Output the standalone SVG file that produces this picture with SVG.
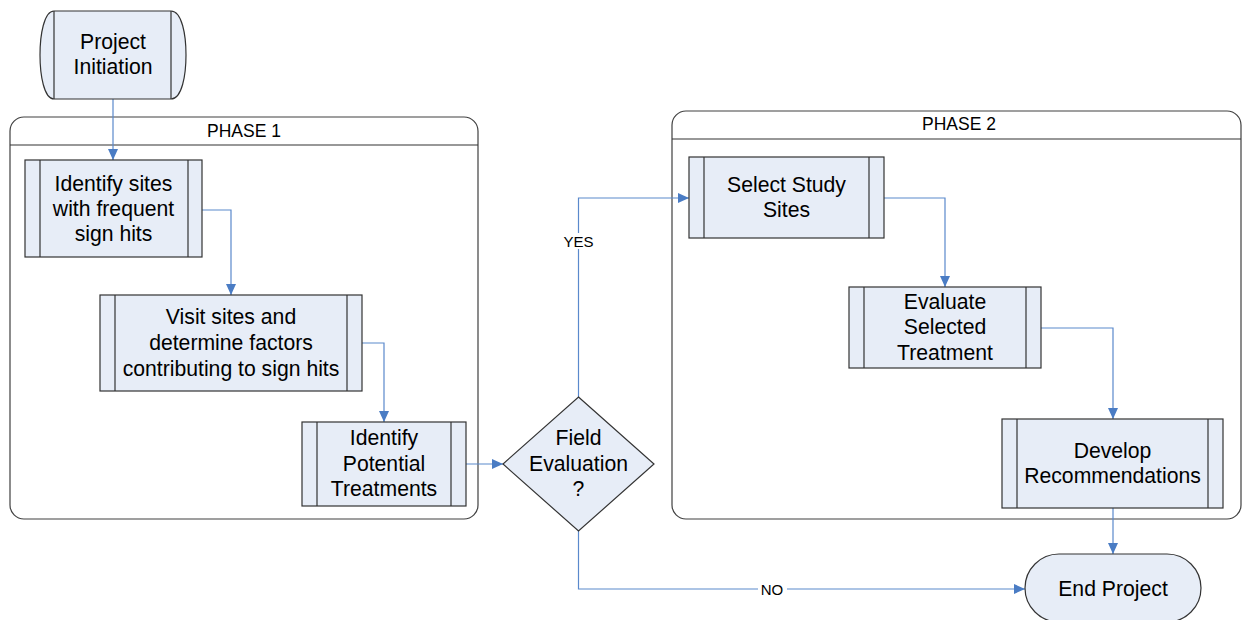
<svg xmlns="http://www.w3.org/2000/svg" width="1243" height="620" viewBox="0 0 1243 620">
<style>
.box{fill:#E7EDF7;stroke:#333;stroke-width:1.2}
.inner{stroke:#333;stroke-width:1.2;fill:none}
.cont{fill:#fff;stroke:#404040;stroke-width:1.2}
.t{font-family:"Liberation Sans",Arial,sans-serif;font-size:21.2px;fill:#000;text-anchor:middle;dominant-baseline:central}
.h{font-family:"Liberation Sans",Arial,sans-serif;font-size:17.5px;fill:#000;text-anchor:middle;dominant-baseline:central}
.lbl{font-family:"Liberation Sans",Arial,sans-serif;font-size:15px;fill:#000;text-anchor:middle;dominant-baseline:central}
.c{fill:none;stroke:#5A89CC;stroke-width:1.2}
</style>
<defs>
<marker id="arr" markerUnits="userSpaceOnUse" markerWidth="12" markerHeight="10" refX="11" refY="5" orient="auto">
<path d="M0,0 L11,5 L0,10 Z" fill="#4A7CC4"/>
</marker>
</defs>
<rect width="1243" height="620" fill="#fff"/>
<g id="phase1">
<rect class="cont" x="10" y="117" width="468" height="402" rx="14"/>
<line class="inner" x1="10" y1="145" x2="478" y2="145"/>
<text class="h" x="244" y="131">PHASE 1</text>
</g>
<g id="phase2">
<rect class="cont" x="672" y="111" width="569" height="408" rx="14"/>
<line class="inner" x1="672" y1="139" x2="1241" y2="139"/>
<text class="h" x="959" y="124">PHASE 2</text>
</g>
<g id="connectors">
<path class="c" d="M113,99 V160" marker-end="url(#arr)"/>
<path class="c" d="M202,210 H231 V295" marker-end="url(#arr)"/>
<path class="c" d="M362,343 H384 V422" marker-end="url(#arr)"/>
<path class="c" d="M466,464 H503" marker-end="url(#arr)"/>
<path class="c" d="M578.5,397 V198 H689" marker-end="url(#arr)"/>
<path class="c" d="M578.5,531 V589 H1025" marker-end="url(#arr)"/>
<path class="c" d="M884,198 H945 V287" marker-end="url(#arr)"/>
<path class="c" d="M1041,328 H1113 V419" marker-end="url(#arr)"/>
<path class="c" d="M1113,508 V554" marker-end="url(#arr)"/>
<rect x="561" y="233" width="35" height="16" fill="#fff"/>
<text class="lbl" x="578.5" y="241">YES</text>
<rect x="758" y="581" width="29" height="16" fill="#fff"/>
<text class="lbl" x="772" y="589">NO</text>
</g>
<g id="project-initiation">
<path class="box" d="M54,11 H171 C182,11 186,35 186,55 C186,75 182,99 171,99 H54 C44,99 40,75 40,55 C40,35 44,11 54,11 Z"/>
<line class="inner" x1="54" y1="11" x2="54" y2="99"/>
<line class="inner" x1="171" y1="11" x2="171" y2="99"/>
<text class="t" x="113" y="41">Project</text>
<text class="t" x="113" y="66">Initiation</text>
</g>
<g id="identify-sites">
<rect class="box" x="25" y="160" width="177" height="97"/>
<line class="inner" x1="40" y1="160" x2="40" y2="257"/>
<line class="inner" x1="188" y1="160" x2="188" y2="257"/>
<text class="t" x="113.5" y="183">Identify sites</text>
<text class="t" x="113.5" y="208">with frequent</text>
<text class="t" x="113.5" y="233">sign hits</text>
</g>
<g id="visit-sites">
<rect class="box" x="100" y="295" width="262" height="96"/>
<line class="inner" x1="115" y1="295" x2="115" y2="391"/>
<line class="inner" x1="347" y1="295" x2="347" y2="391"/>
<text class="t" x="231" y="316">Visit sites and</text>
<text class="t" x="231" y="342">determine factors</text>
<text class="t" x="231" y="368">contributing to sign hits</text>
</g>
<g id="identify-treatments">
<rect class="box" x="302" y="422" width="164" height="84"/>
<line class="inner" x1="317" y1="422" x2="317" y2="506"/>
<line class="inner" x1="451" y1="422" x2="451" y2="506"/>
<text class="t" x="384" y="437">Identify</text>
<text class="t" x="384" y="463">Potential</text>
<text class="t" x="384" y="488">Treatments</text>
</g>
<g id="field-evaluation">
<path class="box" d="M578.5,397 L654,464 L578.5,531 L503,464 Z"/>
<text class="t" x="578.5" y="437">Field</text>
<text class="t" x="578.5" y="463">Evaluation</text>
<text class="t" x="578.5" y="488">?</text>
</g>
<g id="select-study-sites">
<rect class="box" x="689" y="157" width="195" height="81"/>
<line class="inner" x1="704" y1="157" x2="704" y2="238"/>
<line class="inner" x1="869" y1="157" x2="869" y2="238"/>
<text class="t" x="786.5" y="184">Select Study</text>
<text class="t" x="786.5" y="209">Sites</text>
</g>
<g id="evaluate-treatment">
<rect class="box" x="849" y="287" width="192" height="81"/>
<line class="inner" x1="864" y1="287" x2="864" y2="368"/>
<line class="inner" x1="1026" y1="287" x2="1026" y2="368"/>
<text class="t" x="945" y="301">Evaluate</text>
<text class="t" x="945" y="326">Selected</text>
<text class="t" x="945" y="352">Treatment</text>
</g>
<g id="develop-recommendations">
<rect class="box" x="1002" y="419" width="221" height="89"/>
<line class="inner" x1="1017" y1="419" x2="1017" y2="508"/>
<line class="inner" x1="1208" y1="419" x2="1208" y2="508"/>
<text class="t" x="1112.5" y="450">Develop</text>
<text class="t" x="1112.5" y="475">Recommendations</text>
</g>
<g id="end-project">
<rect class="box" x="1025" y="554" width="176" height="68" rx="34"/>
<text class="t" x="1113" y="588">End Project</text>
</g>
</svg>
